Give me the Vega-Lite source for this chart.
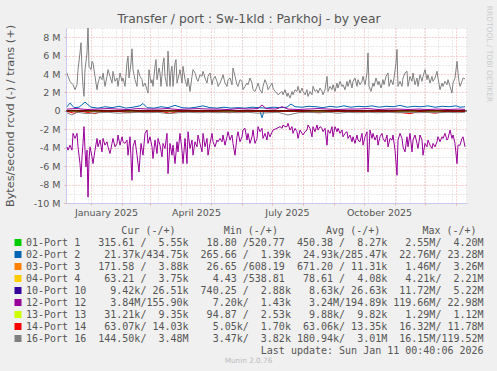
{
"$schema": "https://vega.github.io/schema/vega-lite/v6.json",
"autosize": "none",
"padding": {"left": 66, "top": 28, "right": 30, "bottom": 168},
"width": 401,
"height": 175,
"background": "#F0F0F0",
"config": {"view": {"fill": "#FFFFFF", "stroke": null}, "font": "DejaVu Sans"},
"resolve": {"axis": {"x": "independent", "y": "independent"}},
"layer": [
{
"data": {"format": {"parse": {"t": "date:'%Y-%j'"}}, "values": [
{"t":"2024-343","p":"p01","d":"i","v":-0.001},{"t":"2025-180","p":"p01","d":"i","v":-0.001},{"t":"2026-010","p":"p01","d":"i","v":-0.001},
{"t":"2024-343","p":"p01","d":"o","v":0.008},{"t":"2025-180","p":"p01","d":"o","v":0.008},{"t":"2026-010","p":"p01","d":"o","v":0.006},
{"t":"2024-343","p":"p02","d":"i","v":-0.03},{"t":"2025-100","p":"p02","d":"i","v":-0.02},{"t":"2025-170","p":"p02","d":"i","v":-0.03},{"t":"2025-172","p":"p02","d":"i","v":-0.75},{"t":"2025-174","p":"p02","d":"i","v":-0.03},{"t":"2026-010","p":"p02","d":"i","v":-0.02},
{"t":"2024-343","p":"p02","d":"o","v":0.45},{"t":"2024-346","p":"p02","d":"o","v":0.85},{"t":"2024-350","p":"p02","d":"o","v":0.35},{"t":"2024-355","p":"p02","d":"o","v":0.40},{"t":"2024-361","p":"p02","d":"o","v":0.95},{"t":"2025-001","p":"p02","d":"o","v":0.40},{"t":"2025-008","p":"p02","d":"o","v":0.30},{"t":"2025-015","p":"p02","d":"o","v":0.45},{"t":"2025-022","p":"p02","d":"o","v":0.35},{"t":"2025-029","p":"p02","d":"o","v":0.50},{"t":"2025-036","p":"p02","d":"o","v":0.30},{"t":"2025-043","p":"p02","d":"o","v":0.40},{"t":"2025-050","p":"p02","d":"o","v":0.55},{"t":"2025-053","p":"p02","d":"o","v":0.80},{"t":"2025-057","p":"p02","d":"o","v":0.35},{"t":"2025-064","p":"p02","d":"o","v":0.30},{"t":"2025-071","p":"p02","d":"o","v":0.45},{"t":"2025-078","p":"p02","d":"o","v":0.35},{"t":"2025-085","p":"p02","d":"o","v":0.60},{"t":"2025-092","p":"p02","d":"o","v":0.35},{"t":"2025-099","p":"p02","d":"o","v":0.30},{"t":"2025-106","p":"p02","d":"o","v":0.40},{"t":"2025-113","p":"p02","d":"o","v":0.55},{"t":"2025-120","p":"p02","d":"o","v":0.35},{"t":"2025-127","p":"p02","d":"o","v":0.30},{"t":"2025-134","p":"p02","d":"o","v":0.40},{"t":"2025-141","p":"p02","d":"o","v":0.30},{"t":"2025-148","p":"p02","d":"o","v":0.35},{"t":"2025-155","p":"p02","d":"o","v":0.30},{"t":"2025-162","p":"p02","d":"o","v":0.40},{"t":"2025-169","p":"p02","d":"o","v":0.35},{"t":"2025-176","p":"p02","d":"o","v":0.30},{"t":"2025-183","p":"p02","d":"o","v":0.40},{"t":"2025-190","p":"p02","d":"o","v":0.35},{"t":"2025-197","p":"p02","d":"o","v":0.40},{"t":"2025-201","p":"p02","d":"o","v":0.75},{"t":"2025-205","p":"p02","d":"o","v":0.45},{"t":"2025-212","p":"p02","d":"o","v":0.40},{"t":"2025-219","p":"p02","d":"o","v":0.50},{"t":"2025-226","p":"p02","d":"o","v":0.45},{"t":"2025-233","p":"p02","d":"o","v":0.35},{"t":"2025-240","p":"p02","d":"o","v":0.50},{"t":"2025-247","p":"p02","d":"o","v":0.40},{"t":"2025-254","p":"p02","d":"o","v":0.55},{"t":"2025-261","p":"p02","d":"o","v":0.40},{"t":"2025-268","p":"p02","d":"o","v":0.50},{"t":"2025-275","p":"p02","d":"o","v":0.45},{"t":"2025-282","p":"p02","d":"o","v":0.55},{"t":"2025-289","p":"p02","d":"o","v":0.40},{"t":"2025-296","p":"p02","d":"o","v":0.50},{"t":"2025-303","p":"p02","d":"o","v":0.45},{"t":"2025-310","p":"p02","d":"o","v":0.60},{"t":"2025-317","p":"p02","d":"o","v":0.40},{"t":"2025-324","p":"p02","d":"o","v":0.50},{"t":"2025-331","p":"p02","d":"o","v":0.45},{"t":"2025-338","p":"p02","d":"o","v":0.55},{"t":"2025-345","p":"p02","d":"o","v":0.40},{"t":"2025-352","p":"p02","d":"o","v":0.50},{"t":"2025-359","p":"p02","d":"o","v":0.45},{"t":"2026-001","p":"p02","d":"o","v":0.55},{"t":"2026-005","p":"p02","d":"o","v":0.40},{"t":"2026-010","p":"p02","d":"o","v":0.45},
{"t":"2024-343","p":"p03","d":"i","v":-0.001},{"t":"2025-180","p":"p03","d":"i","v":-0.001},{"t":"2026-010","p":"p03","d":"i","v":-0.001},
{"t":"2024-343","p":"p03","d":"o","v":0.011},{"t":"2025-180","p":"p03","d":"o","v":0.011},{"t":"2026-010","p":"p03","d":"o","v":0.004},
{"t":"2024-343","p":"p04","d":"i","v":0},{"t":"2025-180","p":"p04","d":"i","v":0},{"t":"2026-010","p":"p04","d":"i","v":0},
{"t":"2024-343","p":"p04","d":"o","v":0.004},{"t":"2025-180","p":"p04","d":"o","v":0.004},{"t":"2026-010","p":"p04","d":"o","v":0.004},
{"t":"2024-343","p":"p10","d":"i","v":-0.009},{"t":"2025-180","p":"p10","d":"i","v":-0.009},{"t":"2026-010","p":"p10","d":"i","v":-0.009},
{"t":"2024-343","p":"p10","d":"o","v":0.027},{"t":"2025-180","p":"p10","d":"o","v":0.027},{"t":"2026-010","p":"p10","d":"o","v":0.027},
{"t":"2024-343","p":"p12","d":"i","v":-3.90},{"t":"2024-344","p":"p12","d":"i","v":-4.26},{"t":"2024-346","p":"p12","d":"i","v":-3.72},{"t":"2024-348","p":"p12","d":"i","v":-4.26},{"t":"2024-349","p":"p12","d":"i","v":-2.44},{"t":"2024-351","p":"p12","d":"i","v":-2.99},{"t":"2024-353","p":"p12","d":"i","v":-2.44},{"t":"2024-354","p":"p12","d":"i","v":-3.90},{"t":"2024-356","p":"p12","d":"i","v":-5.72},{"t":"2024-357","p":"p12","d":"i","v":-7.18},{"t":"2024-358","p":"p12","d":"i","v":-4.99},{"t":"2024-359","p":"p12","d":"i","v":-3.53},{"t":"2024-360","p":"p12","d":"i","v":-1.71},{"t":"2024-361","p":"p12","d":"i","v":-4.26},{"t":"2024-362","p":"p12","d":"i","v":-6.08},{"t":"2024-363","p":"p12","d":"i","v":-4.26},{"t":"2024-364","p":"p12","d":"i","v":-9.36},{"t":"2024-365","p":"p12","d":"i","v":-5.36},{"t":"2024-366","p":"p12","d":"i","v":-3.90},{"t":"2025-002","p":"p12","d":"i","v":-4.99},{"t":"2025-003","p":"p12","d":"i","v":-5.72},{"t":"2025-005","p":"p12","d":"i","v":-4.26},{"t":"2025-007","p":"p12","d":"i","v":-2.99},{"t":"2025-008","p":"p12","d":"i","v":-3.90},{"t":"2025-010","p":"p12","d":"i","v":-3.17},{"t":"2025-012","p":"p12","d":"i","v":-4.45},{"t":"2025-013","p":"p12","d":"i","v":-2.99},{"t":"2025-015","p":"p12","d":"i","v":-3.72},{"t":"2025-017","p":"p12","d":"i","v":-3.35},{"t":"2025-018","p":"p12","d":"i","v":-3.90},{"t":"2025-020","p":"p12","d":"i","v":-4.63},{"t":"2025-022","p":"p12","d":"i","v":-3.53},{"t":"2025-023","p":"p12","d":"i","v":-2.99},{"t":"2025-025","p":"p12","d":"i","v":-3.90},{"t":"2025-027","p":"p12","d":"i","v":-3.53},{"t":"2025-028","p":"p12","d":"i","v":-2.62},{"t":"2025-030","p":"p12","d":"i","v":-3.72},{"t":"2025-032","p":"p12","d":"i","v":-2.81},{"t":"2025-033","p":"p12","d":"i","v":-3.35},{"t":"2025-035","p":"p12","d":"i","v":-3.53},{"t":"2025-037","p":"p12","d":"i","v":-3.17},{"t":"2025-038","p":"p12","d":"i","v":-4.81},{"t":"2025-040","p":"p12","d":"i","v":-2.81},{"t":"2025-042","p":"p12","d":"i","v":-7.54},{"t":"2025-043","p":"p12","d":"i","v":-3.90},{"t":"2025-045","p":"p12","d":"i","v":-3.17},{"t":"2025-047","p":"p12","d":"i","v":-4.81},{"t":"2025-049","p":"p12","d":"i","v":-6.63},{"t":"2025-051","p":"p12","d":"i","v":-3.53},{"t":"2025-053","p":"p12","d":"i","v":-4.81},{"t":"2025-055","p":"p12","d":"i","v":-2.44},{"t":"2025-057","p":"p12","d":"i","v":-2.08},{"t":"2025-058","p":"p12","d":"i","v":-3.53},{"t":"2025-060","p":"p12","d":"i","v":-2.81},{"t":"2025-062","p":"p12","d":"i","v":-3.90},{"t":"2025-063","p":"p12","d":"i","v":-5.17},{"t":"2025-065","p":"p12","d":"i","v":-3.17},{"t":"2025-067","p":"p12","d":"i","v":-4.63},{"t":"2025-068","p":"p12","d":"i","v":-2.99},{"t":"2025-070","p":"p12","d":"i","v":-3.72},{"t":"2025-072","p":"p12","d":"i","v":-4.99},{"t":"2025-073","p":"p12","d":"i","v":-3.53},{"t":"2025-075","p":"p12","d":"i","v":-4.08},{"t":"2025-077","p":"p12","d":"i","v":-2.44},{"t":"2025-078","p":"p12","d":"i","v":-6.81},{"t":"2025-080","p":"p12","d":"i","v":-3.53},{"t":"2025-082","p":"p12","d":"i","v":-4.81},{"t":"2025-083","p":"p12","d":"i","v":-3.72},{"t":"2025-085","p":"p12","d":"i","v":-5.72},{"t":"2025-087","p":"p12","d":"i","v":-3.35},{"t":"2025-088","p":"p12","d":"i","v":-4.45},{"t":"2025-090","p":"p12","d":"i","v":-2.44},{"t":"2025-092","p":"p12","d":"i","v":-4.26},{"t":"2025-093","p":"p12","d":"i","v":-5.72},{"t":"2025-095","p":"p12","d":"i","v":-2.99},{"t":"2025-097","p":"p12","d":"i","v":-5.72},{"t":"2025-098","p":"p12","d":"i","v":-2.26},{"t":"2025-100","p":"p12","d":"i","v":-4.08},{"t":"2025-102","p":"p12","d":"i","v":-3.17},{"t":"2025-103","p":"p12","d":"i","v":-4.81},{"t":"2025-105","p":"p12","d":"i","v":-3.35},{"t":"2025-107","p":"p12","d":"i","v":-3.90},{"t":"2025-108","p":"p12","d":"i","v":-2.62},{"t":"2025-110","p":"p12","d":"i","v":-3.53},{"t":"2025-112","p":"p12","d":"i","v":-4.45},{"t":"2025-113","p":"p12","d":"i","v":-2.44},{"t":"2025-115","p":"p12","d":"i","v":-3.90},{"t":"2025-117","p":"p12","d":"i","v":-2.99},{"t":"2025-118","p":"p12","d":"i","v":-4.81},{"t":"2025-120","p":"p12","d":"i","v":-3.53},{"t":"2025-122","p":"p12","d":"i","v":-2.44},{"t":"2025-123","p":"p12","d":"i","v":-3.35},{"t":"2025-125","p":"p12","d":"i","v":-3.90},{"t":"2025-127","p":"p12","d":"i","v":-3.17},{"t":"2025-128","p":"p12","d":"i","v":-3.35},{"t":"2025-130","p":"p12","d":"i","v":-2.99},{"t":"2025-132","p":"p12","d":"i","v":-3.35},{"t":"2025-133","p":"p12","d":"i","v":-2.62},{"t":"2025-135","p":"p12","d":"i","v":-3.72},{"t":"2025-137","p":"p12","d":"i","v":-2.81},{"t":"2025-138","p":"p12","d":"i","v":-2.26},{"t":"2025-140","p":"p12","d":"i","v":-3.17},{"t":"2025-142","p":"p12","d":"i","v":-2.62},{"t":"2025-143","p":"p12","d":"i","v":-3.53},{"t":"2025-145","p":"p12","d":"i","v":-4.81},{"t":"2025-147","p":"p12","d":"i","v":-2.81},{"t":"2025-148","p":"p12","d":"i","v":-2.26},{"t":"2025-150","p":"p12","d":"i","v":-3.35},{"t":"2025-152","p":"p12","d":"i","v":-2.81},{"t":"2025-153","p":"p12","d":"i","v":-2.08},{"t":"2025-155","p":"p12","d":"i","v":-1.89},{"t":"2025-157","p":"p12","d":"i","v":-3.17},{"t":"2025-158","p":"p12","d":"i","v":-2.44},{"t":"2025-160","p":"p12","d":"i","v":-3.53},{"t":"2025-162","p":"p12","d":"i","v":-2.81},{"t":"2025-163","p":"p12","d":"i","v":-2.08},{"t":"2025-165","p":"p12","d":"i","v":-3.53},{"t":"2025-167","p":"p12","d":"i","v":-2.99},{"t":"2025-168","p":"p12","d":"i","v":-1.71},{"t":"2025-170","p":"p12","d":"i","v":-2.26},{"t":"2025-172","p":"p12","d":"i","v":-1.89},{"t":"2025-173","p":"p12","d":"i","v":-2.99},{"t":"2025-175","p":"p12","d":"i","v":-2.44},{"t":"2025-177","p":"p12","d":"i","v":-3.17},{"t":"2025-178","p":"p12","d":"i","v":-2.26},{"t":"2025-180","p":"p12","d":"i","v":-2.81},{"t":"2025-183","p":"p12","d":"i","v":-2.08},{"t":"2025-187","p":"p12","d":"i","v":-1.89},{"t":"2025-190","p":"p12","d":"i","v":-1.71},{"t":"2025-192","p":"p12","d":"i","v":-1.89},{"t":"2025-193","p":"p12","d":"i","v":-1.53},{"t":"2025-195","p":"p12","d":"i","v":-1.71},{"t":"2025-197","p":"p12","d":"i","v":-1.71},{"t":"2025-198","p":"p12","d":"i","v":-1.35},{"t":"2025-200","p":"p12","d":"i","v":-2.08},{"t":"2025-202","p":"p12","d":"i","v":-1.71},{"t":"2025-203","p":"p12","d":"i","v":-2.44},{"t":"2025-205","p":"p12","d":"i","v":-1.89},{"t":"2025-207","p":"p12","d":"i","v":-2.26},{"t":"2025-208","p":"p12","d":"i","v":-2.99},{"t":"2025-210","p":"p12","d":"i","v":-2.08},{"t":"2025-212","p":"p12","d":"i","v":-2.44},{"t":"2025-213","p":"p12","d":"i","v":-2.62},{"t":"2025-215","p":"p12","d":"i","v":-2.26},{"t":"2025-217","p":"p12","d":"i","v":-2.08},{"t":"2025-218","p":"p12","d":"i","v":-1.53},{"t":"2025-220","p":"p12","d":"i","v":-1.89},{"t":"2025-222","p":"p12","d":"i","v":-2.81},{"t":"2025-223","p":"p12","d":"i","v":-1.71},{"t":"2025-225","p":"p12","d":"i","v":-2.26},{"t":"2025-227","p":"p12","d":"i","v":-1.53},{"t":"2025-228","p":"p12","d":"i","v":-2.08},{"t":"2025-230","p":"p12","d":"i","v":-1.71},{"t":"2025-232","p":"p12","d":"i","v":-1.89},{"t":"2025-233","p":"p12","d":"i","v":-2.26},{"t":"2025-235","p":"p12","d":"i","v":-1.89},{"t":"2025-237","p":"p12","d":"i","v":-3.72},{"t":"2025-238","p":"p12","d":"i","v":-2.08},{"t":"2025-240","p":"p12","d":"i","v":-2.44},{"t":"2025-242","p":"p12","d":"i","v":-1.71},{"t":"2025-243","p":"p12","d":"i","v":-2.81},{"t":"2025-245","p":"p12","d":"i","v":-1.71},{"t":"2025-247","p":"p12","d":"i","v":-2.26},{"t":"2025-248","p":"p12","d":"i","v":-1.89},{"t":"2025-250","p":"p12","d":"i","v":-2.44},{"t":"2025-252","p":"p12","d":"i","v":-2.08},{"t":"2025-253","p":"p12","d":"i","v":-2.81},{"t":"2025-255","p":"p12","d":"i","v":-2.44},{"t":"2025-257","p":"p12","d":"i","v":-2.26},{"t":"2025-258","p":"p12","d":"i","v":-2.99},{"t":"2025-260","p":"p12","d":"i","v":-2.62},{"t":"2025-262","p":"p12","d":"i","v":-3.35},{"t":"2025-263","p":"p12","d":"i","v":-2.81},{"t":"2025-265","p":"p12","d":"i","v":-3.53},{"t":"2025-267","p":"p12","d":"i","v":-2.62},{"t":"2025-268","p":"p12","d":"i","v":-3.17},{"t":"2025-270","p":"p12","d":"i","v":-3.35},{"t":"2025-272","p":"p12","d":"i","v":-2.44},{"t":"2025-273","p":"p12","d":"i","v":-3.72},{"t":"2025-275","p":"p12","d":"i","v":-2.81},{"t":"2025-277","p":"p12","d":"i","v":-2.26},{"t":"2025-278","p":"p12","d":"i","v":-6.63},{"t":"2025-280","p":"p12","d":"i","v":-2.08},{"t":"2025-282","p":"p12","d":"i","v":-2.99},{"t":"2025-283","p":"p12","d":"i","v":-2.44},{"t":"2025-285","p":"p12","d":"i","v":-3.17},{"t":"2025-287","p":"p12","d":"i","v":-2.62},{"t":"2025-288","p":"p12","d":"i","v":-3.72},{"t":"2025-290","p":"p12","d":"i","v":-2.81},{"t":"2025-292","p":"p12","d":"i","v":-2.44},{"t":"2025-293","p":"p12","d":"i","v":-2.99},{"t":"2025-295","p":"p12","d":"i","v":-3.35},{"t":"2025-297","p":"p12","d":"i","v":-2.62},{"t":"2025-298","p":"p12","d":"i","v":-3.90},{"t":"2025-300","p":"p12","d":"i","v":-2.99},{"t":"2025-302","p":"p12","d":"i","v":-3.17},{"t":"2025-303","p":"p12","d":"i","v":-2.62},{"t":"2025-305","p":"p12","d":"i","v":-4.26},{"t":"2025-307","p":"p12","d":"i","v":-6.99},{"t":"2025-308","p":"p12","d":"i","v":-3.17},{"t":"2025-310","p":"p12","d":"i","v":-2.44},{"t":"2025-312","p":"p12","d":"i","v":-2.99},{"t":"2025-313","p":"p12","d":"i","v":-3.90},{"t":"2025-315","p":"p12","d":"i","v":-4.45},{"t":"2025-317","p":"p12","d":"i","v":-2.81},{"t":"2025-318","p":"p12","d":"i","v":-3.90},{"t":"2025-320","p":"p12","d":"i","v":-2.44},{"t":"2025-322","p":"p12","d":"i","v":-4.45},{"t":"2025-323","p":"p12","d":"i","v":-3.17},{"t":"2025-325","p":"p12","d":"i","v":-2.62},{"t":"2025-327","p":"p12","d":"i","v":-3.53},{"t":"2025-328","p":"p12","d":"i","v":-4.08},{"t":"2025-330","p":"p12","d":"i","v":-2.62},{"t":"2025-332","p":"p12","d":"i","v":-3.17},{"t":"2025-333","p":"p12","d":"i","v":-4.81},{"t":"2025-335","p":"p12","d":"i","v":-3.53},{"t":"2025-337","p":"p12","d":"i","v":-3.90},{"t":"2025-338","p":"p12","d":"i","v":-3.17},{"t":"2025-340","p":"p12","d":"i","v":-3.72},{"t":"2025-342","p":"p12","d":"i","v":-4.08},{"t":"2025-343","p":"p12","d":"i","v":-3.53},{"t":"2025-345","p":"p12","d":"i","v":-3.90},{"t":"2025-347","p":"p12","d":"i","v":-3.35},{"t":"2025-348","p":"p12","d":"i","v":-2.81},{"t":"2025-350","p":"p12","d":"i","v":-3.35},{"t":"2025-352","p":"p12","d":"i","v":-2.81},{"t":"2025-353","p":"p12","d":"i","v":-2.99},{"t":"2025-355","p":"p12","d":"i","v":-2.44},{"t":"2025-357","p":"p12","d":"i","v":-3.17},{"t":"2025-358","p":"p12","d":"i","v":-2.99},{"t":"2025-360","p":"p12","d":"i","v":-2.08},{"t":"2025-362","p":"p12","d":"i","v":-2.99},{"t":"2025-363","p":"p12","d":"i","v":-2.62},{"t":"2025-365","p":"p12","d":"i","v":-3.53},{"t":"2026-002","p":"p12","d":"i","v":-5.72},{"t":"2026-003","p":"p12","d":"i","v":-3.72},{"t":"2026-005","p":"p12","d":"i","v":-3.72},{"t":"2026-007","p":"p12","d":"i","v":-2.99},{"t":"2026-008","p":"p12","d":"i","v":-2.81},{"t":"2026-010","p":"p12","d":"i","v":-3.90},
{"t":"2024-343","p":"p12","d":"o","v":0.20},{"t":"2024-353","p":"p12","d":"o","v":0.25},{"t":"2024-363","p":"p12","d":"o","v":0.15},{"t":"2025-008","p":"p12","d":"o","v":0.20},{"t":"2025-018","p":"p12","d":"o","v":0.25},{"t":"2025-028","p":"p12","d":"o","v":0.20},{"t":"2025-038","p":"p12","d":"o","v":0.15},{"t":"2025-048","p":"p12","d":"o","v":0.25},{"t":"2025-058","p":"p12","d":"o","v":0.20},{"t":"2025-068","p":"p12","d":"o","v":0.20},{"t":"2025-078","p":"p12","d":"o","v":0.25},{"t":"2025-088","p":"p12","d":"o","v":0.15},{"t":"2025-098","p":"p12","d":"o","v":0.20},{"t":"2025-108","p":"p12","d":"o","v":0.25},{"t":"2025-118","p":"p12","d":"o","v":0.20},{"t":"2025-128","p":"p12","d":"o","v":0.20},{"t":"2025-138","p":"p12","d":"o","v":0.15},{"t":"2025-148","p":"p12","d":"o","v":0.25},{"t":"2025-158","p":"p12","d":"o","v":0.20},{"t":"2025-168","p":"p12","d":"o","v":0.25},{"t":"2025-172","p":"p12","d":"o","v":0.65},{"t":"2025-176","p":"p12","d":"o","v":0.25},{"t":"2025-186","p":"p12","d":"o","v":0.20},{"t":"2025-192","p":"p12","d":"o","v":0.45},{"t":"2025-198","p":"p12","d":"o","v":0.20},{"t":"2025-208","p":"p12","d":"o","v":0.15},{"t":"2025-218","p":"p12","d":"o","v":0.20},{"t":"2025-228","p":"p12","d":"o","v":0.25},{"t":"2025-238","p":"p12","d":"o","v":0.20},{"t":"2025-248","p":"p12","d":"o","v":0.15},{"t":"2025-258","p":"p12","d":"o","v":0.20},{"t":"2025-268","p":"p12","d":"o","v":0.20},{"t":"2025-278","p":"p12","d":"o","v":0.25},{"t":"2025-288","p":"p12","d":"o","v":0.15},{"t":"2025-298","p":"p12","d":"o","v":0.20},{"t":"2025-308","p":"p12","d":"o","v":0.20},{"t":"2025-318","p":"p12","d":"o","v":0.15},{"t":"2025-328","p":"p12","d":"o","v":0.20},{"t":"2025-338","p":"p12","d":"o","v":0.15},{"t":"2025-348","p":"p12","d":"o","v":0.20},{"t":"2025-358","p":"p12","d":"o","v":0.15},{"t":"2026-003","p":"p12","d":"o","v":0.20},{"t":"2026-010","p":"p12","d":"o","v":0.16},
{"t":"2024-343","p":"p13","d":"i","v":-0.01},{"t":"2025-180","p":"p13","d":"i","v":-0.01},{"t":"2026-010","p":"p13","d":"i","v":-0.03},
{"t":"2024-343","p":"p13","d":"o","v":0.01},{"t":"2025-180","p":"p13","d":"o","v":0.01},{"t":"2026-010","p":"p13","d":"o","v":0.009},
{"t":"2024-343","p":"p14","d":"i","v":-0.05},{"t":"2024-350","p":"p14","d":"i","v":-0.25},{"t":"2024-357","p":"p14","d":"i","v":-0.05},{"t":"2025-005","p":"p14","d":"i","v":-0.30},{"t":"2025-012","p":"p14","d":"i","v":-0.05},{"t":"2025-030","p":"p14","d":"i","v":-0.06},{"t":"2025-040","p":"p14","d":"i","v":-0.20},{"t":"2025-050","p":"p14","d":"i","v":-0.05},{"t":"2025-070","p":"p14","d":"i","v":-0.05},{"t":"2025-080","p":"p14","d":"i","v":-0.25},{"t":"2025-090","p":"p14","d":"i","v":-0.05},{"t":"2025-120","p":"p14","d":"i","v":-0.05},{"t":"2025-140","p":"p14","d":"i","v":-0.20},{"t":"2025-150","p":"p14","d":"i","v":-0.05},{"t":"2025-180","p":"p14","d":"i","v":-0.05},{"t":"2025-210","p":"p14","d":"i","v":-0.05},{"t":"2025-230","p":"p14","d":"i","v":-0.20},{"t":"2025-240","p":"p14","d":"i","v":-0.05},{"t":"2025-270","p":"p14","d":"i","v":-0.05},{"t":"2025-300","p":"p14","d":"i","v":-0.05},{"t":"2025-320","p":"p14","d":"i","v":-0.30},{"t":"2025-330","p":"p14","d":"i","v":-0.05},{"t":"2025-345","p":"p14","d":"i","v":-0.25},{"t":"2025-355","p":"p14","d":"i","v":-0.06},{"t":"2026-010","p":"p14","d":"i","v":-0.06},
{"t":"2024-343","p":"p14","d":"o","v":0.013},{"t":"2025-180","p":"p14","d":"o","v":0.013},{"t":"2026-010","p":"p14","d":"o","v":0.014},
{"t":"2024-343","p":"p16","d":"i","v":-0.20},{"t":"2024-348","p":"p16","d":"i","v":-0.45},{"t":"2024-353","p":"p16","d":"i","v":-0.15},{"t":"2024-363","p":"p16","d":"i","v":-0.30},{"t":"2025-008","p":"p16","d":"i","v":-0.20},{"t":"2025-018","p":"p16","d":"i","v":-0.15},{"t":"2025-028","p":"p16","d":"i","v":-0.25},{"t":"2025-038","p":"p16","d":"i","v":-0.20},{"t":"2025-048","p":"p16","d":"i","v":-0.15},{"t":"2025-058","p":"p16","d":"i","v":-0.20},{"t":"2025-068","p":"p16","d":"i","v":-0.15},{"t":"2025-078","p":"p16","d":"i","v":-0.30},{"t":"2025-088","p":"p16","d":"i","v":-0.20},{"t":"2025-098","p":"p16","d":"i","v":-0.15},{"t":"2025-108","p":"p16","d":"i","v":-0.20},{"t":"2025-118","p":"p16","d":"i","v":-0.15},{"t":"2025-128","p":"p16","d":"i","v":-0.20},{"t":"2025-138","p":"p16","d":"i","v":-0.15},{"t":"2025-148","p":"p16","d":"i","v":-0.20},{"t":"2025-158","p":"p16","d":"i","v":-0.15},{"t":"2025-168","p":"p16","d":"i","v":-0.25},{"t":"2025-178","p":"p16","d":"i","v":-0.20},{"t":"2025-188","p":"p16","d":"i","v":-0.15},{"t":"2025-198","p":"p16","d":"i","v":-0.45},{"t":"2025-208","p":"p16","d":"i","v":-0.20},{"t":"2025-218","p":"p16","d":"i","v":-0.15},{"t":"2025-228","p":"p16","d":"i","v":-0.20},{"t":"2025-238","p":"p16","d":"i","v":-0.15},{"t":"2025-248","p":"p16","d":"i","v":-0.25},{"t":"2025-258","p":"p16","d":"i","v":-0.15},{"t":"2025-268","p":"p16","d":"i","v":-0.20},{"t":"2025-278","p":"p16","d":"i","v":-0.15},{"t":"2025-288","p":"p16","d":"i","v":-0.20},{"t":"2025-298","p":"p16","d":"i","v":-0.15},{"t":"2025-308","p":"p16","d":"i","v":-0.20},{"t":"2025-318","p":"p16","d":"i","v":-0.15},{"t":"2025-328","p":"p16","d":"i","v":-0.20},{"t":"2025-338","p":"p16","d":"i","v":-0.15},{"t":"2025-348","p":"p16","d":"i","v":-0.20},{"t":"2025-358","p":"p16","d":"i","v":-0.15},{"t":"2026-003","p":"p16","d":"i","v":-0.20},{"t":"2026-010","p":"p16","d":"i","v":-0.15},
{"t":"2024-343","p":"p16","d":"o","v":4.12},{"t":"2024-344","p":"p16","d":"o","v":3.75},{"t":"2024-346","p":"p16","d":"o","v":3.21},{"t":"2024-349","p":"p16","d":"o","v":2.84},{"t":"2024-351","p":"p16","d":"o","v":2.30},{"t":"2024-353","p":"p16","d":"o","v":2.84},{"t":"2024-354","p":"p16","d":"o","v":4.48},{"t":"2024-356","p":"p16","d":"o","v":6.30},{"t":"2024-357","p":"p16","d":"o","v":7.40},{"t":"2024-358","p":"p16","d":"o","v":4.48},{"t":"2024-359","p":"p16","d":"o","v":2.66},{"t":"2024-360","p":"p16","d":"o","v":1.57},{"t":"2024-361","p":"p16","d":"o","v":4.48},{"t":"2024-363","p":"p16","d":"o","v":6.30},{"t":"2024-364","p":"p16","d":"o","v":9.22},{"t":"2024-365","p":"p16","d":"o","v":4.85},{"t":"2025-001","p":"p16","d":"o","v":4.48},{"t":"2025-002","p":"p16","d":"o","v":5.39},{"t":"2025-003","p":"p16","d":"o","v":5.21},{"t":"2025-005","p":"p16","d":"o","v":3.75},{"t":"2025-007","p":"p16","d":"o","v":2.30},{"t":"2025-008","p":"p16","d":"o","v":3.02},{"t":"2025-010","p":"p16","d":"o","v":3.75},{"t":"2025-012","p":"p16","d":"o","v":3.39},{"t":"2025-013","p":"p16","d":"o","v":4.12},{"t":"2025-015","p":"p16","d":"o","v":2.66},{"t":"2025-017","p":"p16","d":"o","v":3.75},{"t":"2025-018","p":"p16","d":"o","v":4.48},{"t":"2025-020","p":"p16","d":"o","v":3.75},{"t":"2025-022","p":"p16","d":"o","v":3.02},{"t":"2025-023","p":"p16","d":"o","v":4.30},{"t":"2025-025","p":"p16","d":"o","v":3.21},{"t":"2025-027","p":"p16","d":"o","v":3.57},{"t":"2025-028","p":"p16","d":"o","v":2.66},{"t":"2025-030","p":"p16","d":"o","v":4.12},{"t":"2025-032","p":"p16","d":"o","v":3.21},{"t":"2025-033","p":"p16","d":"o","v":3.57},{"t":"2025-035","p":"p16","d":"o","v":2.66},{"t":"2025-037","p":"p16","d":"o","v":5.21},{"t":"2025-038","p":"p16","d":"o","v":5.94},{"t":"2025-039","p":"p16","d":"o","v":3.57},{"t":"2025-041","p":"p16","d":"o","v":5.21},{"t":"2025-042","p":"p16","d":"o","v":6.74},{"t":"2025-043","p":"p16","d":"o","v":4.48},{"t":"2025-044","p":"p16","d":"o","v":3.93},{"t":"2025-045","p":"p16","d":"o","v":3.39},{"t":"2025-047","p":"p16","d":"o","v":2.66},{"t":"2025-048","p":"p16","d":"o","v":4.48},{"t":"2025-050","p":"p16","d":"o","v":3.75},{"t":"2025-052","p":"p16","d":"o","v":3.39},{"t":"2025-053","p":"p16","d":"o","v":2.66},{"t":"2025-055","p":"p16","d":"o","v":3.02},{"t":"2025-057","p":"p16","d":"o","v":2.30},{"t":"2025-058","p":"p16","d":"o","v":1.93},{"t":"2025-059","p":"p16","d":"o","v":4.48},{"t":"2025-061","p":"p16","d":"o","v":3.02},{"t":"2025-062","p":"p16","d":"o","v":3.39},{"t":"2025-063","p":"p16","d":"o","v":2.66},{"t":"2025-065","p":"p16","d":"o","v":4.85},{"t":"2025-066","p":"p16","d":"o","v":5.57},{"t":"2025-067","p":"p16","d":"o","v":3.39},{"t":"2025-069","p":"p16","d":"o","v":4.66},{"t":"2025-070","p":"p16","d":"o","v":4.12},{"t":"2025-071","p":"p16","d":"o","v":2.66},{"t":"2025-073","p":"p16","d":"o","v":5.21},{"t":"2025-074","p":"p16","d":"o","v":5.76},{"t":"2025-075","p":"p16","d":"o","v":3.75},{"t":"2025-077","p":"p16","d":"o","v":2.66},{"t":"2025-078","p":"p16","d":"o","v":6.49},{"t":"2025-080","p":"p16","d":"o","v":2.66},{"t":"2025-081","p":"p16","d":"o","v":4.30},{"t":"2025-082","p":"p16","d":"o","v":4.85},{"t":"2025-083","p":"p16","d":"o","v":2.66},{"t":"2025-085","p":"p16","d":"o","v":5.21},{"t":"2025-086","p":"p16","d":"o","v":5.57},{"t":"2025-087","p":"p16","d":"o","v":3.02},{"t":"2025-089","p":"p16","d":"o","v":3.93},{"t":"2025-090","p":"p16","d":"o","v":4.48},{"t":"2025-092","p":"p16","d":"o","v":3.02},{"t":"2025-093","p":"p16","d":"o","v":4.85},{"t":"2025-095","p":"p16","d":"o","v":3.39},{"t":"2025-097","p":"p16","d":"o","v":2.66},{"t":"2025-098","p":"p16","d":"o","v":3.57},{"t":"2025-100","p":"p16","d":"o","v":2.11},{"t":"2025-102","p":"p16","d":"o","v":3.75},{"t":"2025-103","p":"p16","d":"o","v":4.48},{"t":"2025-105","p":"p16","d":"o","v":4.12},{"t":"2025-107","p":"p16","d":"o","v":3.39},{"t":"2025-108","p":"p16","d":"o","v":3.21},{"t":"2025-110","p":"p16","d":"o","v":3.93},{"t":"2025-112","p":"p16","d":"o","v":3.75},{"t":"2025-113","p":"p16","d":"o","v":4.30},{"t":"2025-115","p":"p16","d":"o","v":3.57},{"t":"2025-117","p":"p16","d":"o","v":3.02},{"t":"2025-118","p":"p16","d":"o","v":3.75},{"t":"2025-120","p":"p16","d":"o","v":4.12},{"t":"2025-122","p":"p16","d":"o","v":2.84},{"t":"2025-123","p":"p16","d":"o","v":3.39},{"t":"2025-125","p":"p16","d":"o","v":3.75},{"t":"2025-127","p":"p16","d":"o","v":3.21},{"t":"2025-128","p":"p16","d":"o","v":2.66},{"t":"2025-130","p":"p16","d":"o","v":3.02},{"t":"2025-132","p":"p16","d":"o","v":3.57},{"t":"2025-133","p":"p16","d":"o","v":3.93},{"t":"2025-135","p":"p16","d":"o","v":3.02},{"t":"2025-137","p":"p16","d":"o","v":2.66},{"t":"2025-138","p":"p16","d":"o","v":3.39},{"t":"2025-140","p":"p16","d":"o","v":3.57},{"t":"2025-142","p":"p16","d":"o","v":2.84},{"t":"2025-143","p":"p16","d":"o","v":4.66},{"t":"2025-145","p":"p16","d":"o","v":3.75},{"t":"2025-147","p":"p16","d":"o","v":2.84},{"t":"2025-148","p":"p16","d":"o","v":2.66},{"t":"2025-150","p":"p16","d":"o","v":3.39},{"t":"2025-152","p":"p16","d":"o","v":3.21},{"t":"2025-153","p":"p16","d":"o","v":2.30},{"t":"2025-155","p":"p16","d":"o","v":2.66},{"t":"2025-157","p":"p16","d":"o","v":3.02},{"t":"2025-158","p":"p16","d":"o","v":2.84},{"t":"2025-160","p":"p16","d":"o","v":3.57},{"t":"2025-162","p":"p16","d":"o","v":3.02},{"t":"2025-163","p":"p16","d":"o","v":2.30},{"t":"2025-165","p":"p16","d":"o","v":2.11},{"t":"2025-167","p":"p16","d":"o","v":2.66},{"t":"2025-168","p":"p16","d":"o","v":3.02},{"t":"2025-170","p":"p16","d":"o","v":2.30},{"t":"2025-172","p":"p16","d":"o","v":1.93},{"t":"2025-173","p":"p16","d":"o","v":2.66},{"t":"2025-175","p":"p16","d":"o","v":3.39},{"t":"2025-177","p":"p16","d":"o","v":2.84},{"t":"2025-178","p":"p16","d":"o","v":2.30},{"t":"2025-180","p":"p16","d":"o","v":2.66},{"t":"2025-182","p":"p16","d":"o","v":3.02},{"t":"2025-183","p":"p16","d":"o","v":2.48},{"t":"2025-185","p":"p16","d":"o","v":2.11},{"t":"2025-187","p":"p16","d":"o","v":1.93},{"t":"2025-188","p":"p16","d":"o","v":1.75},{"t":"2025-190","p":"p16","d":"o","v":1.93},{"t":"2025-192","p":"p16","d":"o","v":2.11},{"t":"2025-193","p":"p16","d":"o","v":1.75},{"t":"2025-195","p":"p16","d":"o","v":2.30},{"t":"2025-197","p":"p16","d":"o","v":1.57},{"t":"2025-198","p":"p16","d":"o","v":1.93},{"t":"2025-200","p":"p16","d":"o","v":1.39},{"t":"2025-202","p":"p16","d":"o","v":2.11},{"t":"2025-203","p":"p16","d":"o","v":1.75},{"t":"2025-205","p":"p16","d":"o","v":2.30},{"t":"2025-207","p":"p16","d":"o","v":2.11},{"t":"2025-208","p":"p16","d":"o","v":2.66},{"t":"2025-210","p":"p16","d":"o","v":1.93},{"t":"2025-212","p":"p16","d":"o","v":2.48},{"t":"2025-213","p":"p16","d":"o","v":2.11},{"t":"2025-215","p":"p16","d":"o","v":1.75},{"t":"2025-217","p":"p16","d":"o","v":2.30},{"t":"2025-218","p":"p16","d":"o","v":1.57},{"t":"2025-220","p":"p16","d":"o","v":2.11},{"t":"2025-222","p":"p16","d":"o","v":1.75},{"t":"2025-223","p":"p16","d":"o","v":2.66},{"t":"2025-225","p":"p16","d":"o","v":2.11},{"t":"2025-227","p":"p16","d":"o","v":2.30},{"t":"2025-228","p":"p16","d":"o","v":1.93},{"t":"2025-230","p":"p16","d":"o","v":2.48},{"t":"2025-232","p":"p16","d":"o","v":2.11},{"t":"2025-233","p":"p16","d":"o","v":1.75},{"t":"2025-235","p":"p16","d":"o","v":2.30},{"t":"2025-237","p":"p16","d":"o","v":3.75},{"t":"2025-238","p":"p16","d":"o","v":2.11},{"t":"2025-240","p":"p16","d":"o","v":2.66},{"t":"2025-242","p":"p16","d":"o","v":2.30},{"t":"2025-243","p":"p16","d":"o","v":2.84},{"t":"2025-245","p":"p16","d":"o","v":2.11},{"t":"2025-247","p":"p16","d":"o","v":3.02},{"t":"2025-248","p":"p16","d":"o","v":2.48},{"t":"2025-250","p":"p16","d":"o","v":3.21},{"t":"2025-252","p":"p16","d":"o","v":2.66},{"t":"2025-253","p":"p16","d":"o","v":2.84},{"t":"2025-255","p":"p16","d":"o","v":2.30},{"t":"2025-257","p":"p16","d":"o","v":3.21},{"t":"2025-258","p":"p16","d":"o","v":2.66},{"t":"2025-260","p":"p16","d":"o","v":3.39},{"t":"2025-262","p":"p16","d":"o","v":2.48},{"t":"2025-263","p":"p16","d":"o","v":3.21},{"t":"2025-265","p":"p16","d":"o","v":3.57},{"t":"2025-267","p":"p16","d":"o","v":2.66},{"t":"2025-268","p":"p16","d":"o","v":3.39},{"t":"2025-270","p":"p16","d":"o","v":2.84},{"t":"2025-272","p":"p16","d":"o","v":3.21},{"t":"2025-273","p":"p16","d":"o","v":3.75},{"t":"2025-275","p":"p16","d":"o","v":2.84},{"t":"2025-277","p":"p16","d":"o","v":4.12},{"t":"2025-278","p":"p16","d":"o","v":6.30},{"t":"2025-279","p":"p16","d":"o","v":2.66},{"t":"2025-281","p":"p16","d":"o","v":2.11},{"t":"2025-283","p":"p16","d":"o","v":3.02},{"t":"2025-284","p":"p16","d":"o","v":2.66},{"t":"2025-286","p":"p16","d":"o","v":3.57},{"t":"2025-288","p":"p16","d":"o","v":2.84},{"t":"2025-289","p":"p16","d":"o","v":3.21},{"t":"2025-291","p":"p16","d":"o","v":2.48},{"t":"2025-293","p":"p16","d":"o","v":3.39},{"t":"2025-294","p":"p16","d":"o","v":2.84},{"t":"2025-296","p":"p16","d":"o","v":3.75},{"t":"2025-298","p":"p16","d":"o","v":4.12},{"t":"2025-299","p":"p16","d":"o","v":2.66},{"t":"2025-301","p":"p16","d":"o","v":3.39},{"t":"2025-303","p":"p16","d":"o","v":2.84},{"t":"2025-304","p":"p16","d":"o","v":3.57},{"t":"2025-306","p":"p16","d":"o","v":5.21},{"t":"2025-307","p":"p16","d":"o","v":6.67},{"t":"2025-308","p":"p16","d":"o","v":2.66},{"t":"2025-310","p":"p16","d":"o","v":3.21},{"t":"2025-312","p":"p16","d":"o","v":2.66},{"t":"2025-313","p":"p16","d":"o","v":3.57},{"t":"2025-315","p":"p16","d":"o","v":4.12},{"t":"2025-317","p":"p16","d":"o","v":4.30},{"t":"2025-318","p":"p16","d":"o","v":2.66},{"t":"2025-320","p":"p16","d":"o","v":3.75},{"t":"2025-322","p":"p16","d":"o","v":3.21},{"t":"2025-323","p":"p16","d":"o","v":4.12},{"t":"2025-325","p":"p16","d":"o","v":2.84},{"t":"2025-327","p":"p16","d":"o","v":3.57},{"t":"2025-328","p":"p16","d":"o","v":2.66},{"t":"2025-330","p":"p16","d":"o","v":3.93},{"t":"2025-332","p":"p16","d":"o","v":3.21},{"t":"2025-333","p":"p16","d":"o","v":3.75},{"t":"2025-335","p":"p16","d":"o","v":4.48},{"t":"2025-337","p":"p16","d":"o","v":3.39},{"t":"2025-338","p":"p16","d":"o","v":3.93},{"t":"2025-340","p":"p16","d":"o","v":3.02},{"t":"2025-342","p":"p16","d":"o","v":3.75},{"t":"2025-343","p":"p16","d":"o","v":3.21},{"t":"2025-345","p":"p16","d":"o","v":3.57},{"t":"2025-347","p":"p16","d":"o","v":4.30},{"t":"2025-348","p":"p16","d":"o","v":3.57},{"t":"2025-350","p":"p16","d":"o","v":2.30},{"t":"2025-352","p":"p16","d":"o","v":3.02},{"t":"2025-353","p":"p16","d":"o","v":2.66},{"t":"2025-355","p":"p16","d":"o","v":3.21},{"t":"2025-357","p":"p16","d":"o","v":2.84},{"t":"2025-358","p":"p16","d":"o","v":3.39},{"t":"2025-360","p":"p16","d":"o","v":2.66},{"t":"2025-362","p":"p16","d":"o","v":1.93},{"t":"2025-363","p":"p16","d":"o","v":3.02},{"t":"2025-365","p":"p16","d":"o","v":3.57},{"t":"2026-002","p":"p16","d":"o","v":5.39},{"t":"2026-003","p":"p16","d":"o","v":4.12},{"t":"2026-004","p":"p16","d":"o","v":3.21},{"t":"2026-005","p":"p16","d":"o","v":2.66},{"t":"2026-007","p":"p16","d":"o","v":3.21},{"t":"2026-008","p":"p16","d":"o","v":3.57},{"t":"2026-010","p":"p16","d":"o","v":3.48}
]},
"mark": {"type": "line", "strokeWidth": 1, "clip": true},
"encoding": {
"x": {"field": "t", "type": "temporal",
 "scale": {"domain": [{"year": 2024, "month": 12, "date": 7}, {"year": 2026, "month": 1, "date": 12}]},
 "axis": {"orient": "bottom", "tickCount": {"interval": "month", "step": 1}, "grid": true, "gridColor": "#F0A8A8", "gridDash": [1, 2], "domain": true, "domainColor": "#C8C8F0", "ticks": true, "tickSize": 2, "tickColor": "#F0A8A8",
  "labelExpr": "month(datum.value) % 3 == 0 && year(datum.value) == 2025 ? timeFormat(datum.value, '%B %Y') : ''",
  "labelOffset": 15, "labelFlush": false, "labelOverlap": false, "labelPadding": 2, "labelFont": "DejaVu Sans", "labelFontSize": 9.5, "labelColor": "#555555",
  "title": "Munin 2.0.76", "titleX": 182, "titleY": 157.3, "titleBaseline": "middle", "titleAlign": "center", "titleFont": "DejaVu Sans", "titleFontSize": 7.3, "titleFontWeight": "normal", "titleColor": "#BBBBBB"}},
"y": {"field": "v", "type": "quantitative",
 "scale": {"domain": [-10, 9], "nice": false, "zero": false},
 "axis": {"orient": "left", "values": [-10, -8, -6, -4, -2, 0, 2, 4, 6, 8], "grid": true, "gridColor": "#F0A8A8", "gridDash": [1, 2], "domain": true, "domainColor": "#C8C8F0", "ticks": true, "tickSize": 2, "tickColor": "#F0A8A8",
  "labelExpr": "datum.value == 0 ? '0\u00a0\u00a0' : datum.value + ' M'", "labelPadding": 4, "labelFont": "DejaVu Sans", "labelFontSize": 9.5, "labelColor": "#555555",
  "title": "Bytes/second rcvd (-) / trans (+)", "titleX": -55.5, "titleY": 87.5, "titleAngle": -90, "titleBaseline": "middle", "titleAlign": "center", "titleFont": "DejaVu Sans", "titleFontSize": 11.3, "titleFontWeight": "normal", "titleColor": "#555555"}},
"color": {"field": "p", "type": "nominal",
 "scale": {"domain": ["p01", "p02", "p03", "p04", "p10", "p12", "p13", "p14", "p16", "lu"], "range": ["#00CC00", "#0066B3", "#FF8000", "#FFCC00", "#330099", "#990099", "#CCFF00", "#FF0000", "#808080", "#F0F0F0"]},
 "legend": {"orient": "none", "legendX": -53, "legendY": 197.5, "direction": "vertical", "padding": 0, "clipHeight": 10,
  "title": "\u200b\u00a0\u00a0\u00a0\u00a0\u00a0\u00a0\u00a0\u00a0\u00a0\u00a0\u00a0\u00a0\u00a0\u00a0\u00a0\u00a0\u00a0\u00a0Cur (-/+)\u00a0\u00a0\u00a0\u00a0\u00a0\u00a0\u00a0\u00a0Min (-/+)\u00a0\u00a0\u00a0\u00a0\u00a0\u00a0\u00a0\u00a0Avg (-/+)\u00a0\u00a0\u00a0\u00a0\u00a0\u00a0\u00a0Max (-/+)",
  "titleFont": "DejaVu Sans Mono", "titleFontSize": 10, "titleFontWeight": "normal", "titleColor": "#555555", "titlePadding": 2, "titleLimit": 1000,
  "labelFont": "DejaVu Sans Mono", "labelFontSize": 10, "labelColor": "#555555", "labelLimit": 1000, "labelOffset": 3,
  "symbolType": "square", "symbolSize": 1, "symbolStrokeWidth": 6, "rowPadding": 2,
  "labelExpr": "datum.label == 'p01' ? '01-Port 1\u00a0\u00a0\u00a0315.61 /\u00a0\u00a05.55k\u00a0\u00a0\u00a018.80 /520.77\u00a0\u00a0450.38 /\u00a0\u00a08.27k\u00a0\u00a0\u00a02.55M/\u00a0\u00a04.20M' : datum.label == 'p02' ? '02-Port 2\u00a0\u00a0\u00a0\u00a021.37k/434.75k\u00a0\u00a0265.66 /\u00a0\u00a01.39k\u00a0\u00a024.93k/285.47k\u00a0\u00a022.76M/\u00a023.28M' : datum.label == 'p03' ? '03-Port 3\u00a0\u00a0\u00a0171.58 /\u00a0\u00a03.88k\u00a0\u00a0\u00a026.65 /608.19\u00a0\u00a0671.20 /\u00a011.31k\u00a0\u00a0\u00a01.46M/\u00a0\u00a03.26M' : datum.label == 'p04' ? '04-Port 4\u00a0\u00a0\u00a0\u00a063.21 /\u00a0\u00a03.75k\u00a0\u00a0\u00a0\u00a04.43 /538.81\u00a0\u00a0\u00a078.61 /\u00a0\u00a04.08k\u00a0\u00a0\u00a04.21k/\u00a0\u00a02.21M' : datum.label == 'p10' ? '10-Port 10\u00a0\u00a0\u00a0\u00a09.42k/\u00a026.51k\u00a0\u00a0740.25 /\u00a0\u00a02.88k\u00a0\u00a0\u00a08.63k/\u00a026.63k\u00a0\u00a011.72M/\u00a0\u00a05.22M' : datum.label == 'p12' ? '12-Port 12\u00a0\u00a0\u00a0\u00a03.84M/155.90k\u00a0\u00a0\u00a0\u00a07.20k/\u00a0\u00a01.43k\u00a0\u00a0\u00a03.24M/194.89k\u00a0119.66M/\u00a022.98M' : datum.label == 'p13' ? '13-Port 13\u00a0\u00a0\u00a031.21k/\u00a0\u00a09.35k\u00a0\u00a0\u00a094.87 /\u00a0\u00a02.53k\u00a0\u00a0\u00a09.88k/\u00a0\u00a09.82k\u00a0\u00a0\u00a01.29M/\u00a0\u00a01.12M' : datum.label == 'p14' ? '14-Port 14\u00a0\u00a0\u00a063.07k/\u00a014.03k\u00a0\u00a0\u00a0\u00a05.05k/\u00a0\u00a01.70k\u00a0\u00a063.06k/\u00a013.35k\u00a0\u00a016.32M/\u00a011.78M' : datum.label == 'p16' ? '16-Port 16\u00a0\u00a0144.50k/\u00a0\u00a03.48M\u00a0\u00a0\u00a0\u00a03.47k/\u00a0\u00a03.82k\u00a0180.94k/\u00a0\u00a03.01M\u00a0\u00a016.15M/119.52M' : '\u200b\u00a0\u00a0\u00a0\u00a0\u00a0\u00a0\u00a0\u00a0\u00a0\u00a0\u00a0\u00a0\u00a0\u00a0\u00a0\u00a0\u00a0\u00a0\u00a0\u00a0\u00a0\u00a0\u00a0\u00a0\u00a0\u00a0\u00a0\u00a0\u00a0\u00a0\u00a0\u00a0\u00a0\u00a0\u00a0\u00a0\u00a0\u00a0\u00a0Last update: Sun Jan 11 00:40:06 2026'"}},
"detail": {"field": "d", "type": "nominal"}
}
},
{
"data": {"format": {"parse": {"t0": "date:'%Y-%j'", "t1": "date:'%Y-%j'"}}, "values": [{"t0": "2024-342", "t1": "2026-012", "v": 0}]},
"mark": {"type": "rule", "color": "#000000", "strokeWidth": 1},
"encoding": {
"x": {"field": "t0", "type": "temporal",
 "scale": {"domain": [{"year": 2024, "month": 12, "date": 7}, {"year": 2026, "month": 1, "date": 12}]},
 "axis": {"orient": "top", "tickCount": {"interval": "week", "step": 2}, "grid": true, "gridColor": "#D4D4D4", "gridDash": [1, 2], "labels": false, "ticks": false, "domain": false,
  "title": "Transfer / port : Sw-1kld : Parkhoj - by year", "titleX": 182.5, "titleY": -5.5, "titleBaseline": "alphabetic", "titleAlign": "center", "titleFont": "DejaVu Sans", "titleFontSize": 12.3, "titleFontWeight": "normal", "titleColor": "#555555"}},
"x2": {"field": "t1"},
"y": {"field": "v", "type": "quantitative",
 "scale": {"domain": [-10, 9], "nice": false, "zero": false},
 "axis": {"orient": "right", "values": [-9, -7, -5, -3, -1, 1, 3, 5, 7, 9], "grid": true, "gridColor": "#D4D4D4", "gridDash": [1, 2], "labels": false, "ticks": false, "domain": false,
  "title": "RRDTOOL / TOBI OETIKER", "titleX": 21.5, "titleY": 25.5, "titleAngle": 90, "titleBaseline": "middle", "titleAlign": "center", "titleFont": "DejaVu Sans", "titleFontSize": 7.5, "titleFontWeight": "normal", "titleColor": "#CCCCCC"}}
}
}
]
}
